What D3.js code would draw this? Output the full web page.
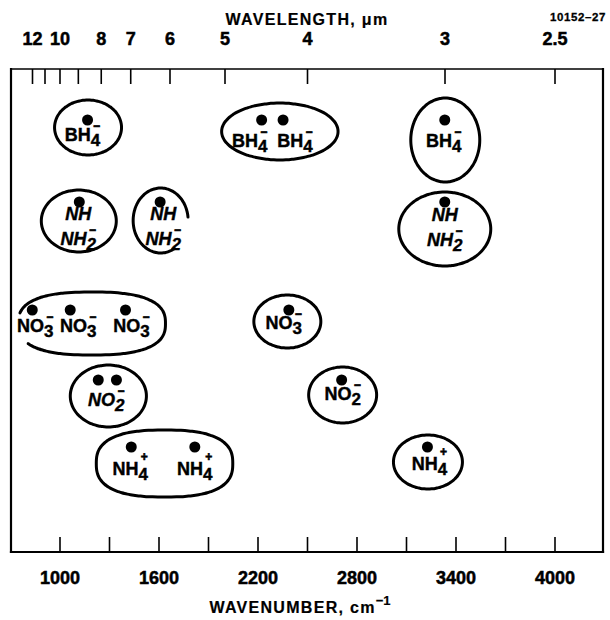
<!DOCTYPE html>
<html>
<head>
<meta charset="utf-8">
<script src="https://cdn.jsdelivr.net/npm/d3@7"></script>
<style>
  html, body { margin: 0; padding: 0; background: #fff; }
  svg { display: block; font-family: "Liberation Sans", Arial, Helvetica, sans-serif; }
</style>
</head>
<body>
<svg id="chart" width="610" height="620"></svg>
<script>
// Ions, one row each, top to bottom
const ions = ["BH4", "NH2", "NO3", "NO2", "NH4"];

// Band centres in cm^-1, grouped the way they are enclosed on the chart
const bh4Groups = [[1170], [2225, 2355], [3335]];
const nh2Groups = [[1120], [1610], [3335]];
const no3Groups = [[835, 1065, 1400], [2390]];
const no2Groups = [[1235, 1345], [2710]];
const nh4Groups = [[1435, 1820], [3230]];

// Axis ticks
const wavenumberTicks = [1000, 1300, 1600, 1900, 2200, 2500, 2800, 3100, 3400, 3700, 4000];
const wavenumberLabels = [1000, 1600, 2200, 2800, 3400, 4000];
const wavelengthTicks = [12, 11, 10, 9, 8, 7, 6, 5, 4, 3, 2.5];
const wavelengthLabels = [12, 10, 8, 7, 6, 5, 4, 3, 2.5];

// Label text per ion (one entry per line): main text, subscript, charge over the subscript
const ionLabels = {
  BH4: [{ t: "BH", sub: "4", chg: "\u2212" }],
  NH2: [{ t: "NH" }, { t: "NH", sub: "2", chg: "\u2212" }],
  NO3: [{ t: "NO", sub: "3", chg: "\u2212" }],
  NO2: [{ t: "NO", sub: "2", chg: "\u2212" }],
  NH4: [{ t: "NH", sub: "4", chg: "+" }]
};

const groupsByIon = { BH4: bh4Groups, NH2: nh2Groups, NO3: no3Groups, NO2: no2Groups, NH4: nh4Groups };

// ---- layout ----
const frame = { left: 11, right: 603, top: 69, bottom: 552 };
const svg = d3.select("#chart");

const x = d3.scaleLinear().domain([1000, 4000]).range([59.5, 554.5]);
const rowY = d3.scaleOrdinal().domain(ions).range([120, 202, 310, 380, 447]);

// Enclosing loop geometry per group: padding around the group's dots,
// squareness (2 = ellipse), optional open arc (degrees), and label placement.
const loopLayout = {
  BH4: [
    { l: 33, r: 34, t: 20, b: 35, n: 2, labels: [{ at: 0, dx: -5, dy: 21 }] },
    { l: 40, r: 55, t: 17, b: 40, n: 2, labels: [{ at: 0, dx: -12, dy: 27 }, { at: 1, dx: 12, dy: 27 }] },
    { l: 34, r: 35, t: 22, b: 62, n: 2, labels: [{ at: 0, dx: -1, dy: 27 }] }
  ],
  NH2: [
    { l: 38, r: 37, t: 12, b: 50, n: 2, italic: true, labels: [{ at: 0, dx: -1, dy: 18, line: 25 }] },
    { l: 27, r: 28, t: 14, b: 51, n: 2, a0: 60, a1: 354, italic: true, labels: [{ at: 0, dx: 3, dy: 18, line: 25 }] },
    { l: 46, r: 46, t: 10, b: 64, n: 2, italic: true, labels: [{ at: 0, dx: 0, dy: 19, line: 25 }] }
  ],
  NO3: [
    { l: 14, r: 40, t: 18, b: 45, n: 2.6, a0: -166, a1: 146,
      labels: [{ at: 0, dx: 3, dy: 22 }, { at: 1, dx: 8, dy: 22 }, { at: 2, dx: 6, dy: 22 }] },
    { l: 35, r: 32, t: 15, b: 38, n: 2, labels: [{ at: 0, dx: -5, dy: 19 }] }
  ],
  NO2: [
    { l: 28, r: 30, t: 15, b: 47, n: 2, italic: true, labels: [{ at: "mid", dx: -1, dy: 26 }] },
    { l: 33, r: 35, t: 13, b: 43, n: 2, labels: [{ at: 0, dx: 1, dy: 20 }] }
  ],
  NH4: [
    { l: 35, r: 38, t: 17, b: 50, n: 2.6, labels: [{ at: 0, dx: -1, dy: 28 }, { at: 1, dx: 0, dy: 28 }] },
    { l: 34, r: 35, t: 12, b: 42, n: 2, labels: [{ at: 0, dx: 2, dy: 23 }] }
  ]
};

// Heavy lettering: bold face plus a hairline outline
function heavy(sel, w) {
  return sel.attr("fill", "#000").attr("stroke", "#000").attr("stroke-width", w).attr("paint-order", "stroke");
}

// ---- frame ----
const fr = svg.append("g").attr("stroke", "#000").attr("stroke-linecap", "square");
fr.append("line").attr("x1", frame.left).attr("x2", frame.right).attr("y1", frame.top).attr("y2", frame.top).attr("stroke-width", 1.6);
fr.append("line").attr("x1", frame.left).attr("x2", frame.right).attr("y1", frame.bottom).attr("y2", frame.bottom).attr("stroke-width", 2.2);
fr.append("line").attr("x1", frame.left).attr("x2", frame.left).attr("y1", frame.top).attr("y2", frame.bottom).attr("stroke-width", 2.2);
fr.append("line").attr("x1", frame.right).attr("x2", frame.right).attr("y1", frame.top).attr("y2", frame.bottom).attr("stroke-width", 2.2);

// ---- bottom axis: wavenumber ----
const bottomAxis = d3.axisBottom(x)
  .tickValues(wavenumberTicks)
  .tickSizeInner(-15).tickSizeOuter(0).tickPadding(19)
  .tickFormat(d => wavenumberLabels.includes(d) ? String(d) : "");
const gb = svg.append("g").attr("transform", `translate(0,${frame.bottom})`).call(bottomAxis);
gb.select(".domain").remove();
gb.selectAll(".tick line").attr("stroke", "#000").attr("stroke-width", 1.6);
heavy(gb.selectAll(".tick text"), 0.5)
  .style("font-size", "18px").style("font-weight", "bold").style("font-family", "Liberation Sans, Arial, sans-serif");

// ---- top axis: wavelength (positions via wavenumber = 10^4 / wavelength) ----
const topAxis = d3.axisTop(x)
  .tickValues(wavelengthTicks.map(l => 1e4 / l))
  .tickSizeInner(-15).tickSizeOuter(0).tickPadding(24)
  .tickFormat(w => {
    const l = +(1e4 / w).toFixed(2);
    return wavelengthLabels.includes(l) ? String(l) : "";
  });
const gt = svg.append("g").attr("transform", `translate(0,${frame.top})`).call(topAxis);
gt.select(".domain").remove();
gt.selectAll(".tick line").attr("stroke", "#000").attr("stroke-width", 1.6);
heavy(gt.selectAll(".tick text"), 0.5)
  .style("font-size", "18px").style("font-weight", "bold").style("font-family", "Liberation Sans, Arial, sans-serif");

// ---- axis titles ----
heavy(svg.append("text"), 0.2).attr("x", 307).attr("y", 25).attr("text-anchor", "middle")
  .style("font-size", "16px").style("font-weight", "bold").style("letter-spacing", "1.3px")
  .text("WAVELENGTH, \u03BCm");

const bt = heavy(svg.append("text"), 0.2).attr("x", 300).attr("y", 613).attr("text-anchor", "middle")
  .style("font-size", "16px").style("font-weight", "bold").style("letter-spacing", "1.3px");
bt.append("tspan").text("WAVENUMBER, cm");
bt.append("tspan").attr("dy", -8).style("font-size", "13px").style("letter-spacing", "0px").text("\u22121");

heavy(svg.append("text"), 0.3).attr("x", 606).attr("y", 21).attr("text-anchor", "end")
  .style("font-size", "11.5px").style("font-weight", "bold").style("letter-spacing", "0.6px")
  .text("10152\u201327");

// ---- loops ----
function loopPath(cx, cy, rx, ry, n, a0, a1) {
  const open = a0 !== undefined;
  const s0 = open ? a0 : 0, s1 = open ? a1 : 360;
  const N = 120;
  const pts = d3.range(N + (open ? 1 : 0)).map(i => {
    const t = (s0 + (s1 - s0) * i / N) * Math.PI / 180;
    const c = Math.cos(t), s = Math.sin(t);
    return [cx + rx * Math.sign(c) * Math.pow(Math.abs(c), 2 / n),
            cy + ry * Math.sign(s) * Math.pow(Math.abs(s), 2 / n)];
  });
  const line = d3.line().curve(open ? d3.curveBasis : d3.curveBasisClosed);
  return line(pts);
}

// Ion label as one text element: each line is a centred chunk of
// main text + subscript, with the charge pulled back over the subscript.
const mainSize = 18, subSize = 17, chgSize = 12;
const subW = 0.556 * subSize, chgW = 0.584 * chgSize;
const subDrop = 5;
const chgRise = { "\u2212": 11.5, "+": 14 };   // charge baseline above the main baseline
function drawLabel(g, lx, ly, lines, lineGap, italic) {
  const t = heavy(g.append("text"), 0.4).attr("x", lx).attr("y", ly).attr("text-anchor", "middle")
    .style("font-size", mainSize + "px").style("font-weight", "bold")
    .style("font-style", italic ? "italic" : "normal");
  let offset = 0;   // current baseline shift relative to the line's own baseline
  lines.forEach((spec, i) => {
    const first = t.append("tspan").attr("x", lx).text(spec.t);
    if (i > 0) first.attr("dy", lineGap - offset);
    offset = 0;
    if (spec.sub) {
      t.append("tspan").attr("dy", subDrop).style("font-size", subSize + "px").text(spec.sub);
      const up = -chgRise[spec.chg] - subDrop;
      t.append("tspan").attr("dx", -(subW + chgW) / 2 + 1).attr("dy", up)
        .style("font-size", chgSize + "px").attr("stroke-width", 0.6).text(spec.chg);
      offset = -chgRise[spec.chg];
    }
  });
}

const marks = svg.append("g");
ions.forEach(ion => {
  const y0 = rowY(ion);
  groupsByIon[ion].forEach((bands, gi) => {
    const L = loopLayout[ion][gi];
    const xs = bands.map(x);
    const left = d3.min(xs) - L.l, right = d3.max(xs) + L.r;
    const top = y0 - L.t, bottom = y0 + L.b;
    marks.append("path")
      .attr("d", loopPath((left + right) / 2, (top + bottom) / 2, (right - left) / 2, (bottom - top) / 2, L.n, L.a0, L.a1))
      .attr("fill", "none").attr("stroke", "#000").attr("stroke-width", 3).attr("stroke-linecap", "round");

    // band dots
    marks.selectAll(null).data(bands).enter().append("circle")
      .attr("cx", d => x(d)).attr("cy", y0).attr("r", 5.5).attr("fill", "#000");

    // labels
    L.labels.forEach(lb => {
      const bx = lb.at === "mid" ? d3.mean(xs) : xs[lb.at];
      drawLabel(marks, bx + lb.dx, y0 + lb.dy, ionLabels[ion], lb.line || 0, L.italic);
    });
  });
});
</script>
</body>
</html>
